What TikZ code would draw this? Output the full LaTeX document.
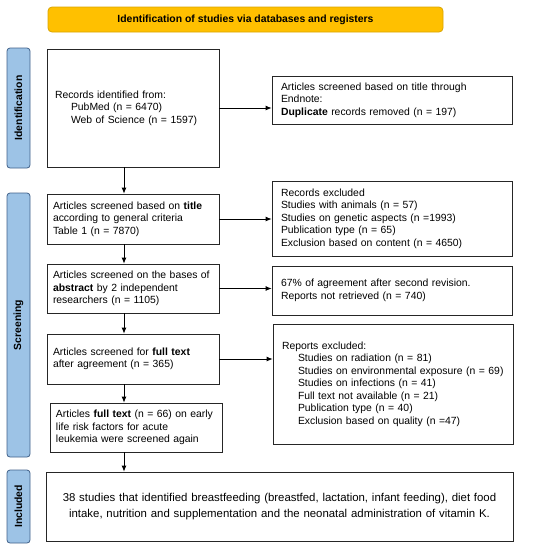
\documentclass[tikz,border=0pt]{standalone}
\usepackage{fontspec}
\setmainfont{Liberation Sans}
\usetikzlibrary{positioning}
\usetikzlibrary{arrows.meta}
\definecolor{phaseblue}{HTML}{9DC3E6}
\definecolor{phaseline}{HTML}{41618A}
\definecolor{bannerfill}{HTML}{FFC000}
\definecolor{bannerline}{HTML}{D9A400}

\begin{document}
\begin{tikzpicture}
        [x=1pt,y=1pt,
         every node/.style={font=\fontsize{10.4}{12.5}\selectfont},
         box/.style 2 args={draw=black!85,line width=0.8pt,align=left,inner xsep=6pt,inner ysep=0pt,text width=#1,minimum height=#2},
         side/.style={inner xsep=9pt},
         phase/.style={draw=phaseline,line width=0.8pt,fill=phaseblue,rounded corners=3pt,rotate=90,minimum width=#1,minimum height=23pt,inner sep=0pt,font=\fontsize{10.4}{12.5}\selectfont\bfseries},
         banner/.style={draw=bannerline,line width=0.8pt,fill=bannerfill,rounded corners=4pt,minimum width=395pt,minimum height=25pt,font=\fontsize{10.4}{12.5}\selectfont\bfseries},
         arr/.style={-{Latex[length=6pt,width=5pt]},line width=0.8pt}]
        \useasboundingbox (0,0) rectangle (543,-550);

        \node[banner]  (top)  at (245.5,-19.5) {Identification of studies via databases and registers};

        \node[phase=120pt]  (ident)  at (18.5,-108) {Identification};
        \node[phase=264pt]  (screen) at (18.5,-325) {Screening};
        \node[phase=73pt]   (incl)   at (18.5,-506.5) {Included};

        \node[box={160pt}{118pt}]  (rec)  at (133,-108) {\hspace*{2pt}Records identified from:\\
          \hspace*{18pt}PubMed (n = 6470)\\
          \hspace*{18pt}Web of Science (n = 1597)};
        \node[box={222pt}{48pt},side]  (dup)  at (392,-100) {Articles screened based on title through\\
          Endnote:\\
          \textbf{Duplicate} records removed (n = 197)};

        \node[box={160pt}{50pt}]  (ttl)  at (133,-219) {Articles screened based on \textbf{title}\\
          according to general criteria\\
          Table 1 (n = 7870)};
        \node[box={222pt}{75pt},side]  (excl)  at (392,-218.5) {Records excluded\\
          Studies with animals (n = 57)\\
          Studies on genetic aspects (n =1993)\\
          Publication type (n = 65)\\
          Exclusion based on content (n = 4650)};

        \node[box={160pt}{49pt}]  (abs)  at (133,-288.5) {Articles screened on the bases of\\
          \textbf{abstract} by 2 independent\\
          researchers (n = 1105)};
        \node[box={222pt}{49pt},side]  (agr)  at (392,-290.5) {67\% of agreement after second revision.\\
          Reports not retrieved (n = 740)};

        \node[box={160pt}{50pt}]  (full)  at (133,-359) {Articles screened for \textbf{full text}\\
          after agreement (n = 365)};
        \node[box={222pt}{120pt},side]  (rep)  at (393,-384) {Reports excluded:\\
          \hspace*{16pt}Studies on radiation (n = 81)\\
          \hspace*{16pt}Studies on environmental exposure (n = 69)\\
          \hspace*{16pt}Studies on infections (n = 41)\\
          \hspace*{16pt}Full text not available (n = 21)\\
          \hspace*{16pt}Publication type (n = 40)\\
          \hspace*{16pt}Exclusion based on quality (n =47)\\[6pt]};

        \node[box={160pt}{49pt}]  (again)  at (136,-427.5) {Articles \textbf{full text} (n = 66) on early\\
          life risk factors for acute\\
          leukemia were screened again};

        \node[box={455pt}{69pt},align=center,font=\fontsize{11.4}{15.5}\selectfont]  (res)  at (279.5,-506.5) {38 studies that identified breastfeeding (breastfed, lactation, infant feeding), diet food\\
          intake, nutrition and supplementation and the neonatal administration of vitamin K.};

        \coordinate (ax) at (124,0);
        \draw[arr] (rec.south -| ax) -- (ttl.north -| ax);
        \draw[arr] (ttl.south -| ax) -- (abs.north -| ax);
        \draw[arr] (abs.south -| ax) -- (full.north -| ax);
        \draw[arr] (full.south -| ax) -- (again.north -| ax);
        \draw[arr] (again.south -| ax) -- (res.north -| ax);

        \draw[arr] (rec.east) -- (rec.east -| dup.west);
        \draw[arr] (ttl.east) -- (ttl.east -| excl.west);
        \draw[arr] (abs.east) -- (abs.east -| agr.west);
        \draw[arr] (full.east) -- (full.east -| rep.west);
\end{tikzpicture}
\end{document}
